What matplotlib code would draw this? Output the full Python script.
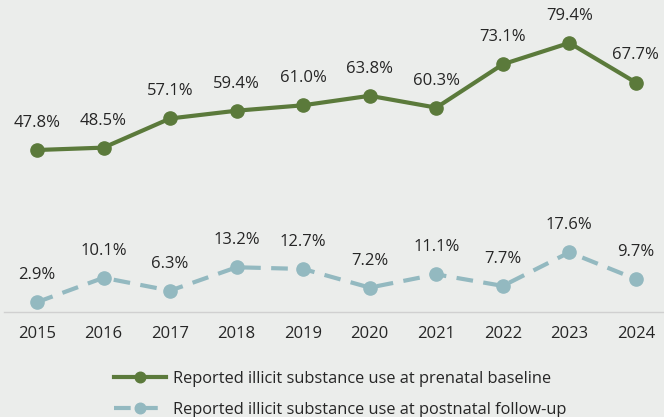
import matplotlib.pyplot as plt

plt.rcParams['font.family'] = ['Open Sans', 'DejaVu Sans']

years = ['2015', '2016', '2017', '2018', '2019', '2020', '2021', '2022', '2023', '2024']
prenatal = [47.8, 48.5, 57.1, 59.4, 61.0, 63.8, 60.3, 73.1, 79.4, 67.7]
postnatal = [2.9, 10.1, 6.3, 13.2, 12.7, 7.2, 11.1, 7.7, 17.6, 9.7]

bg = '#EBEDEB'
green = '#5B7A3B'
blue = '#93B9C0'
txt = '#262626'

fig = plt.figure(figsize=(6.64, 4.17), dpi=100, facecolor=bg)
ax = fig.add_axes([3.7 / 664, 105 / 417, 665.5 / 664, 305 / 417])
ax.set_facecolor(bg)

x = list(range(len(years)))
ax.plot(x, prenatal, color=green, lw=3, marker='o', ms=9.5,
        label='Reported illicit substance use at prenatal baseline')
ax.plot(x, postnatal, color=blue, lw=3, ls=(0, (4, 2.5)), marker='o', ms=9.5,
        label='Reported illicit substance use at postnatal follow-up')

for xi, v in zip(x, prenatal):
    ax.annotate(f'{v:.1f}%', (xi, v), xytext=(0, 19.5), textcoords='offset points',
                ha='center', va='center', fontsize=12, color=txt)
for xi, v in zip(x, postnatal):
    ax.annotate(f'{v:.1f}%', (xi, v), xytext=(0, 19.5), textcoords='offset points',
                ha='center', va='center', fontsize=12, color=txt)

ax.set_xlim(-0.5, 9.5)
ax.set_ylim(0, 90)
ax.set_xticks(x)
ax.set_xticklabels(years, fontsize=12, color=txt)
ax.set_yticks([])
ax.tick_params(axis='x', length=0, pad=10)
for s in ['top', 'right', 'left']:
    ax.spines[s].set_visible(False)
ax.spines['bottom'].set_color('#D0D0D0')
ax.spines['bottom'].set_linewidth(1)

fig.legend(loc='lower left', bbox_to_anchor=(99 / 664, -0.037), frameon=False,
           fontsize=11.8, labelcolor=txt, handlelength=3.2, handletextpad=0.4,
           labelspacing=0.92, markerscale=0.8)

fig.savefig('out.png', dpi=100, facecolor=bg)
